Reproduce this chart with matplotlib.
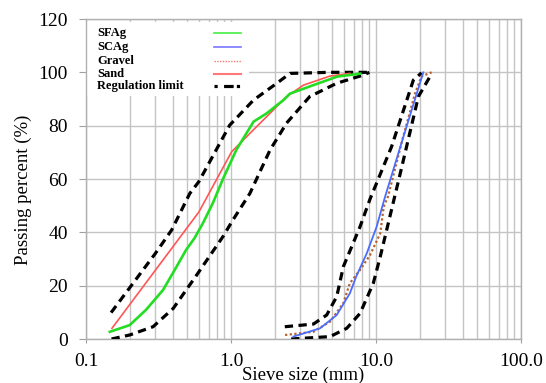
import matplotlib
matplotlib.use("Agg")
import matplotlib.pyplot as plt
from matplotlib.lines import Line2D
from matplotlib.patches import Rectangle
from matplotlib.ticker import FixedLocator, NullFormatter, LogLocator

plt.rcParams['font.family'] = ['Liberation Serif', 'DejaVu Serif']

# ---- data ----
sfag_x = [0.146, 0.2, 0.26, 0.34, 0.41, 0.49, 0.56, 0.64, 0.75, 0.88, 1.09, 1.43, 1.76, 2.3, 2.55, 3.7, 5.4, 7.8]
sfag_y = [2.7, 5.2, 11, 18.4, 26, 33.4, 37.8, 43.4, 51, 60, 71, 81.5, 84.6, 89.6, 92, 95.2, 98.4, 99.5]

sand_x = [0.151, 0.3, 0.6, 1.01, 1.5, 1.96, 2.42, 3.16, 4.82, 6.6]
sand_y = [4.0, 25.7, 47.6, 70.2, 79.6, 85.9, 90.9, 95.2, 98.6, 99.6]

scag_x = [2.69, 4.11, 5.36, 6.6, 7.3, 8.63, 10.1, 11.5, 14.7, 21.2]
scag_y = [0.9, 4.0, 9.0, 17.1, 23.4, 32.1, 42.1, 53.0, 72.0, 100]

gravel_x = [2.36, 3.7, 4.82, 5.95, 6.6, 7.76, 9.1, 10.7, 11.3, 12.1, 15.4, 18.6, 20.6, 24.2]
gravel_y = [1.5, 2.7, 6.5, 13.4, 20.9, 25.9, 31.5, 39.6, 49.6, 53.4, 75.9, 92.1, 98.5, 100]

fine_upper_x = [0.149, 0.3, 0.39, 0.52, 0.6, 0.98, 1.43, 2.07, 2.55, 4.75, 9.0]
fine_upper_y = [9.9, 32, 40.9, 54.6, 59, 80.2, 89.6, 95.9, 99.6, 100, 100]
fine_lower_x = [0.15, 0.2, 0.29, 0.4, 0.57, 0.88, 1.03, 1.35, 1.86, 2.42, 3.49, 5.36, 8.2, 9.0]
fine_lower_y = [0.0, 1.5, 4.6, 11.5, 23.4, 38.4, 44.6, 54.6, 70.9, 81.0, 90.9, 95.9, 99.0, 100]

coarse_upper_x = [2.35, 3.7, 4.57, 5.36, 5.95, 7.76, 9.1, 12.8, 18.1, 20.6]
coarse_upper_y = [4.6, 5.6, 9.0, 15.9, 27.1, 42.1, 52.5, 72.1, 97.1, 99.8]
coarse_lower_x = [2.6, 4.82, 6.28, 7.76, 9.58, 10.7, 14.7, 19.6, 24.2]
coarse_lower_y = [0.0, 0.9, 4.0, 9.6, 20.9, 30.9, 62.1, 90.9, 99.5]

x_ticks = [0.1, 1.0, 10.0, 100.0]
x_tick_labels = ["0.1", "1.0", "10.0", "100.0"]
y_ticks = [0, 20, 40, 60, 80, 100, 120]
legend_labels = ["SFAg", "SCAg", "Gravel", "Sand", "Regulation limit"]

# ---- figure ----
fig = plt.figure(figsize=(5.46, 3.83), dpi=100)
ax = fig.add_axes([86 / 546, 1 - 339 / 383, 435 / 546, 320 / 383])
ax.set_xscale('log')
ax.set_xlim(0.1, 100)
ax.set_ylim(0, 120)
ax.set_axisbelow(True)

grid_c = '#c4c4c4'
ax.xaxis.set_major_locator(FixedLocator(x_ticks))
ax.xaxis.set_minor_locator(LogLocator(base=10, subs=range(2, 10)))
ax.xaxis.set_minor_formatter(NullFormatter())
ax.set_xticklabels(x_tick_labels)
ax.set_yticks(y_ticks)
ax.grid(True, which='major', color=grid_c, lw=1.0)
ax.grid(True, which='minor', axis='x', color=grid_c, lw=1.0)
for s in ax.spines.values():
    s.set_color('#b0b0b0')
    s.set_linewidth(1.0)
ax.tick_params(axis='both', which='major', color='#a0a0a0', labelsize=14)
ax.tick_params(axis='y', which='major', length=5, pad=8)
ax.tick_params(axis='x', which='major', length=3, pad=7)
ax.tick_params(axis='x', which='minor', length=0)

ax.set_xlabel("Sieve size (mm)", fontsize=13.5)
ax.set_ylabel("Passing percent (%)", fontsize=13.5)
ax.xaxis.set_label_coords(0.5, -0.088)
ax.yaxis.set_label_coords(-0.123, 0.466)

dash = (0, (2.6, 1.7))
reg_kw = dict(color='black', lw=2.3, linestyle=dash, zorder=3)
ax.plot(fine_upper_x, fine_upper_y, **reg_kw)
ax.plot(fine_lower_x, fine_lower_y, **reg_kw)
ax.plot(coarse_upper_x, coarse_upper_y, **reg_kw)
ax.plot(coarse_lower_x, coarse_lower_y, **reg_kw)

ax.plot(sand_x, sand_y, color='#ff5555', lw=1.2, zorder=4)
ax.plot(sfag_x, sfag_y, color='#22dd22', lw=1.9, zorder=5)
ax.plot(gravel_x, gravel_y, color='#b8622a', lw=1.6, linestyle=(0, (1, 1.1)), zorder=4)
ax.plot(scag_x, scag_y, color='#4a6cff', lw=1.3, zorder=5)

# ---- legend (text left, handles right) ----
ax.add_patch(Rectangle((0.003, 0.759), 0.372, 0.231, transform=ax.transAxes,
                       facecolor='white', edgecolor='none', zorder=2))
row_y = [0.955, 0.912, 0.870, 0.829, 0.791]
handle_styles = [
    dict(color='#44ee44', lw=1.2, linestyle='-'),
    dict(color='#7777ff', lw=1.2, linestyle='-'),
    dict(color='#ff7777', lw=1.0, linestyle=(0, (1, 1))),
    dict(color='#ff7777', lw=1.5, linestyle='-'),
    dict(color='black', lw=2.3, linestyle=(0, (1.0, 2.0, 3.0, 1.0))),
]
for lab, yy, st in zip(legend_labels, row_y, handle_styles):
    ax.text(0.026, yy, lab, transform=ax.transAxes, fontsize=9, fontweight='bold',
            va='center', ha='left', zorder=6)
    ax.add_line(Line2D([0.294, 0.356], [yy, yy], transform=ax.transAxes, zorder=6, **st))

fig.savefig("out.png", dpi=100)
